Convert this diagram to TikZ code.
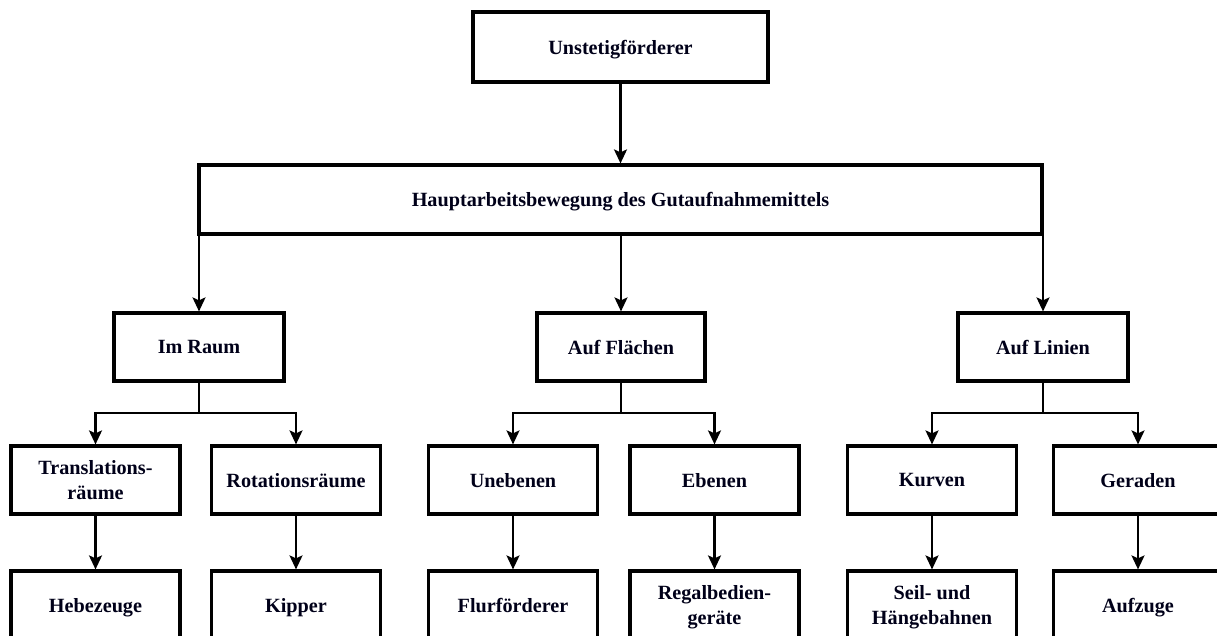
\documentclass[tikz,border=0pt]{standalone}
\usepackage{fontspec}
\setmainfont{Liberation Serif}
\usetikzlibrary{arrows.meta}
\begin{document}
\begin{tikzpicture}[x=1pt,y=-1pt,
  box/.style={draw=black, line width=3.2pt, fill=white, rectangle, align=center,
    inner sep=0pt, text depth=0pt, font=\fontsize{20.2}{25.5}\selectfont\bfseries, text=black!90!blue},
  boxA/.style={box, minimum width=170pt, minimum height=68pt},
  conn/.style={draw=black, line width=2.2pt},
  arr/.style={conn, -{Stealth[length=14pt,width=13pt,inset=3pt]}}]
\useasboundingbox (0,0) rectangle (1217,635);
% level 0 and 1
\node[box, minimum width=295pt, minimum height=70pt] (top) at (620.5,47) {Unstetigförderer};
\node[box, minimum width=843pt, minimum height=69pt] (haupt) at (620.5,199.5) {Hauptarbeitsbewegung des Gutaufnahmemittels};
% level 2
\node[boxA] (raum) at (199,347) {Im Raum};
\node[boxA, minimum width=168pt] (flaechen) at (621,347) {Auf Flächen};
\node[boxA] (linien) at (1043,347) {Auf Linien};
% level 3
\node[boxA, minimum width=169pt] (trans) at (95.5,480) {Translations-\\räume};
\node[boxA, minimum width=169pt] (rot) at (296,480) {Rotationsräume};
\node[boxA, minimum width=169pt] (uneb) at (513,480) {Unebenen};
\node[boxA, minimum width=169pt] (eben) at (714.5,480) {Ebenen};
\node[boxA, minimum width=169pt] (kurv) at (932,480) {Kurven};
\node[boxA, minimum width=169pt] (gerad) at (1138,480) {Geraden};
% level 4
\node[boxA, minimum width=169pt] (hebe) at (95.5,605) {Hebezeuge};
\node[boxA, minimum width=169pt] (kipp) at (296,605) {Kipper};
\node[boxA, minimum width=169pt] (flur) at (513,605) {Flurförderer};
\node[boxA, minimum width=169pt] (regal) at (714.5,605) {Regalbedien-\\geräte};
\node[boxA, minimum width=169pt] (seil) at (932,605) {Seil- und\\Hängebahnen};
\node[boxA, minimum width=169pt] (aufz) at (1138,605) {Aufzuge};
% connectors
\draw[arr] (top.south) -- (haupt.north);
\draw[arr] (raum.north |- haupt.south) -- (raum.north);
\draw[arr] (flaechen.north |- haupt.south) -- (flaechen.north);
\draw[arr] (linien.north |- haupt.south) -- (linien.north);
\coordinate (j1) at (199,413);
\coordinate (j2) at (621,413);
\coordinate (j3) at (1043,413);
\draw[conn] (raum.south) -- (j1);
\draw[arr] (j1) -| (trans.north);
\draw[arr] (j1) -| (rot.north);
\draw[conn] (flaechen.south) -- (j2);
\draw[arr] (j2) -| (uneb.north);
\draw[arr] (j2) -| (eben.north);
\draw[conn] (linien.south) -- (j3);
\draw[arr] (j3) -| (kurv.north);
\draw[arr] (j3) -| (gerad.north);
\draw[arr] (trans.south) -- (hebe.north);
\draw[arr] (rot.south) -- (kipp.north);
\draw[arr] (uneb.south) -- (flur.north);
\draw[arr] (eben.south) -- (regal.north);
\draw[arr] (kurv.south) -- (seil.north);
\draw[arr] (gerad.south) -- (aufz.north);
\end{tikzpicture}
\end{document}
